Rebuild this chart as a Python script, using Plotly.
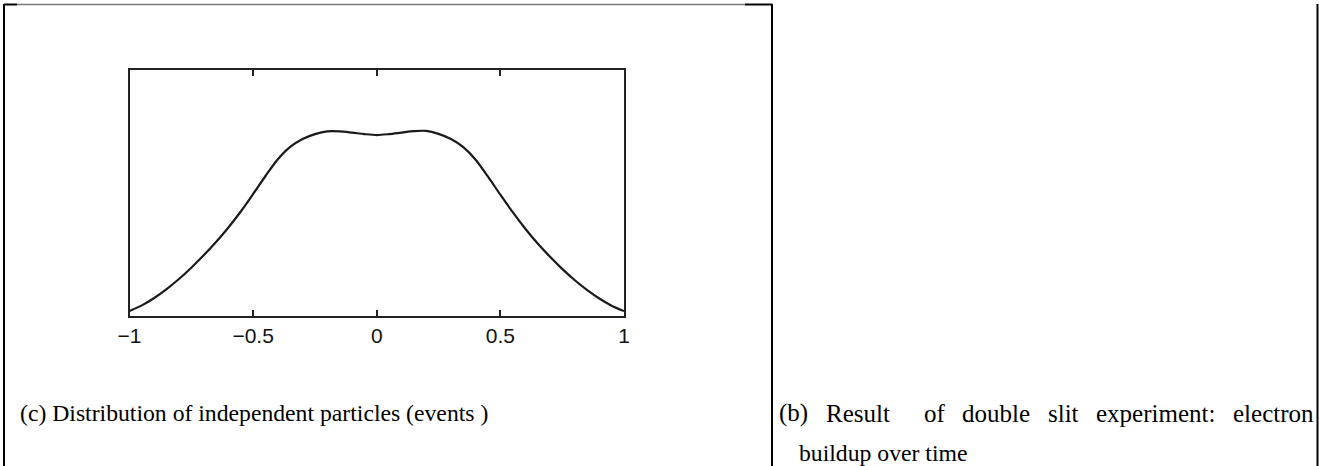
import plotly.graph_objects as go

W, H = 1319, 466

# data (y as fraction of plot height, 0 = bottom axis, 1 = top)
x_vals = [-1.0, -0.95, -0.9, -0.85, -0.8, -0.75, -0.7, -0.65, -0.6, -0.55, -0.5,
          -0.45, -0.4, -0.35, -0.3, -0.25, -0.2, -0.15, -0.1, -0.05, 0.0,
          0.05, 0.1, 0.15, 0.2, 0.25, 0.3, 0.35, 0.4, 0.45, 0.5,
          0.55, 0.6, 0.65, 0.7, 0.75, 0.8, 0.85, 0.9, 0.95, 1.0]
y_vals = [0.020, 0.043, 0.073, 0.109, 0.150, 0.196, 0.246, 0.300, 0.359, 0.424, 0.495,
          0.568, 0.636, 0.686, 0.718, 0.738, 0.749, 0.749, 0.744, 0.738, 0.734,
          0.738, 0.744, 0.750, 0.751, 0.739, 0.718, 0.685, 0.634, 0.565, 0.492,
          0.421, 0.355, 0.295, 0.241, 0.191, 0.146, 0.106, 0.071, 0.042, 0.020]
tick_vals = [-1, -0.5, 0, 0.5, 1]
tick_text = ["\u22121", "\u22120.5", "0", "0.5", "1"]

caption_left = "(c) Distribution of independent particles (events )"
caption_right_words = ["(b)", "Result", "of", "double", "slit", "experiment:", "electron"]
caption_right_2 = "buildup over time"

# layout helpers (pixel -> paper)
def px(x):
    return x / W


def py(y):
    return 1 - y / H


fig = go.Figure()
fig.add_trace(go.Scatter(x=x_vals, y=y_vals, mode="lines",
                         line=dict(color="#1a1a1a", width=2.2, shape="spline", smoothing=0.8),
                         hoverinfo="skip", showlegend=False))

fig.update_layout(
    width=W, height=H, autosize=False,
    margin=dict(l=0, r=0, t=0, b=0),
    paper_bgcolor="white", plot_bgcolor="white",
    xaxis=dict(domain=[px(129.5), px(624)], range=[-1, 1],
               tickvals=tick_vals, ticktext=tick_text,
               ticks="inside", ticklen=6, tickwidth=2, tickcolor="#222",
               showline=True, linecolor="#222", linewidth=2, mirror="ticks",
               showgrid=False, zeroline=False, automargin=False, fixedrange=True,
               tickfont=dict(family="Liberation Sans, Arial", size=21, color="#111")),
    yaxis=dict(domain=[py(316), py(69.5)], range=[0, 1],
               showticklabels=False, ticks="", automargin=False, fixedrange=True,
               showline=True, linecolor="#222", linewidth=2, mirror=True,
               showgrid=False, zeroline=False),
)

# table borders
shapes = []
def seg(x0, y0, x1, y1, color="black", w=2):
    shapes.append(dict(type="line", xref="paper", yref="paper",
                       x0=px(x0), y0=py(y0), x1=px(x1), y1=py(y1),
                       line=dict(color=color, width=w)))

seg(4, 4.5, 17, 4.5)
seg(17, 4.5, 745, 4.5, color="#777", w=1.5)
seg(745, 4.5, 772.5, 4.5)
seg(4, 4, 4, 466)
seg(772, 4, 772, 466)
seg(1317.5, 4, 1317.5, 466)
fig.update_layout(shapes=shapes)

serif = "Liberation Serif, Times New Roman, serif"
FS = 23.7
FS_R = 25
fig.add_annotation(x=px(18), y=py(413), xref="paper", yref="paper",
                   xanchor="left", yanchor="middle", showarrow=False,
                   text=caption_left, font=dict(family=serif, size=FS, color="black"))

# justified first line of the right caption
word_x = [777, 823.6, 922.3, 960.5, 1046, 1094, 1230.8]
for wtxt, wx in zip(caption_right_words, word_x):
    fig.add_annotation(x=px(wx), y=py(413), xref="paper", yref="paper",
                       xanchor="left", yanchor="middle", showarrow=False,
                       text=wtxt, font=dict(family=serif, size=FS_R, color="black"))
fig.add_annotation(x=px(797), y=py(453), xref="paper", yref="paper",
                   xanchor="left", yanchor="middle", showarrow=False,
                   text=caption_right_2, font=dict(family=serif, size=FS, color="black"))

post = ("document.body.style.margin='0';document.body.style.padding='0';"
        "document.body.style.overflow='hidden';"
        "document.documentElement.style.overflow='hidden';")
fig.write_html("out.html", post_script=post, config={"displayModeBar": False})
